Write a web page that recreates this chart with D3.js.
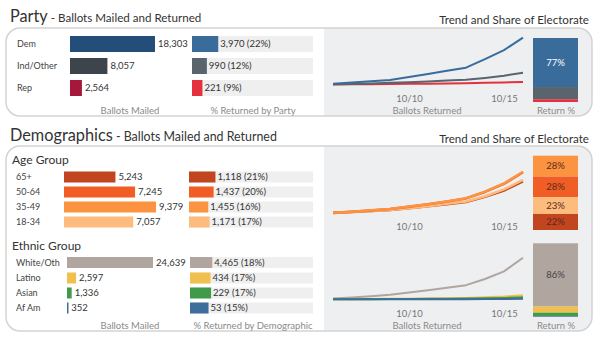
<!DOCTYPE html>
<html>
<head>
<meta charset="utf-8">
<script src="https://cdn.jsdelivr.net/npm/d3@7"></script>
<style>
  body { margin: 0; background: #fff; }
  svg { font-family: Lato, 'Open Sans', sans-serif; }
</style>
</head>
<body>
<div id="dashboard"></div>
<script>
// Days covered by the cumulative return lines
const days = ['10/6', '10/7', '10/8', '10/9', '10/10', '10/11', '10/12', '10/13', '10/14', '10/15', '10/16'];
const tickDays = ['10/10', '10/15'];

// Party
const partyNames = ['Dem', 'Ind/Other', 'Rep'];
const partyMailed = [18303, 8057, 2564];
const partyReturned = [3970, 990, 221];
const demTrend = [60, 160, 270, 380, 640, 900, 1160, 1425, 2150, 2920, 3970];
const indTrend = [20, 50, 90, 140, 200, 260, 330, 400, 560, 750, 990];
const repTrend = [8, 15, 25, 40, 55, 70, 90, 110, 140, 175, 221];

// Age groups
const ageNames = ['65+', '50-64', '35-49', '18-34'];
const ageMailed = [5243, 7245, 9379, 7057];
const ageReturned = [1118, 1437, 1455, 1171];
const age65Trend = [20, 50, 85, 120, 180, 250, 320, 400, 580, 800, 1118];
const age50Trend = [25, 65, 105, 155, 235, 320, 415, 525, 750, 1030, 1437];
const age35Trend = [25, 65, 110, 160, 240, 325, 420, 530, 760, 1045, 1455];
const age18Trend = [20, 50, 85, 125, 185, 255, 335, 420, 600, 840, 1171];

// Ethnic groups
const ethnicNames = ['White/Oth', 'Latino', 'Asian', 'Af Am'];
const ethnicMailed = [24639, 2597, 1336, 352];
const ethnicReturned = [4465, 434, 229, 53];
const whiteTrend = [75, 190, 330, 480, 720, 970, 1230, 1520, 2180, 3000, 4465];
const latinoTrend = [8, 18, 32, 47, 70, 95, 120, 150, 210, 290, 434];
const asianTrend = [4, 10, 17, 25, 37, 50, 63, 78, 110, 152, 229];
const afamTrend = [1, 2, 4, 6, 9, 12, 15, 18, 26, 36, 53];

// Colours
const partyMailedColors = ['#234e79', '#3e444c', '#a6183b'];
const partyReturnedColors = ['#3a6c9b', '#5a646c', '#e3313f'];
const ageColors = ['#c1451f', '#f05e25', '#fb9340', '#fdbb7e'];
const ethnicColors = ['#b1a59f', '#f0c04f', '#3f9a4a', '#3d6e9c'];

const W = 600, H = 348;
const parseDay = d3.timeParse('%m/%d/%Y');
const dayDate = d => parseDay(d + '/2020');
const fmt = d3.format(',');
const pct = d3.format('.0%');

const svg = d3.select('#dashboard').append('svg')
    .attr('width', W)
    .attr('height', H);

// Rounded panel, white on the left, grey behind the trend charts
function panel(id, y, h) {
    svg.append('clipPath').attr('id', id)
        .append('rect')
        .attr('x', 6).attr('y', y).attr('width', 586).attr('height', h).attr('rx', 14);
    svg.append('rect')
        .attr('x', 6).attr('y', y).attr('width', 586).attr('height', h).attr('rx', 14)
        .attr('fill', '#fff');
    svg.append('rect')
        .attr('clip-path', 'url(#' + id + ')')
        .attr('x', 324).attr('y', y).attr('width', 270).attr('height', h)
        .attr('fill', '#eeeff1');
    svg.append('rect')
        .attr('x', 6).attr('y', y).attr('width', 586).attr('height', h).attr('rx', 14)
        .attr('fill', 'none')
        .attr('stroke', '#d3d3d3')
        .attr('stroke-width', 1.5);
}

function title(main, y, subSize) {
    const t = svg.append('text')
        .attr('x', 10).attr('y', y)
        .attr('fill', '#333')
        .style('font-size', '16.3px')
        .text(main);
    t.append('tspan')
        .style('font-size', subSize + 'px')
        .text(' - Ballots Mailed and Returned');
    svg.append('text')
        .attr('x', 589).attr('y', y + 2)
        .attr('text-anchor', 'end')
        .attr('fill', '#333')
        .style('font-size', '11.6px')
        .text('Trend and Share of Electorate');
}

function footer(y, returnedLabel) {
    const labels = [['Ballots Mailed', 130], [returnedLabel, 253], ['Ballots Returned', 427], ['Return %', 556]];
    labels.forEach(l => {
        svg.append('text')
            .attr('x', l[1]).attr('y', y)
            .attr('text-anchor', 'middle')
            .attr('fill', '#8a8a8a')
            .style('font-size', '9.5px')
            .text(l[0]);
    });
}

// Mailed bars and returned-percentage bars for one group of rows
function rows(o) {
    const x = d3.scaleLinear().domain([0, d3.max(o.mailed)]).range([0, o.mailedW]);
    const xp = d3.scaleLinear().domain([0, 1]).range([0, o.retW]);
    const g = svg.append('g');

    o.names.forEach((name, i) => {
        const cy = o.rowY[i];
        g.append('text')
            .attr('x', o.labelX).attr('y', cy).attr('dy', '0.35em')
            .attr('fill', '#444')
            .style('font-size', '9px')
            .text(name);

        // Ballots mailed
        g.append('rect')
            .attr('x', o.mailedX).attr('y', cy - o.barH / 2)
            .attr('width', Math.max(1.5, x(o.mailed[i]))).attr('height', o.barH)
            .attr('fill', o.mailedColors[i]);
        g.append('text')
            .attr('x', o.mailedX + x(o.mailed[i]) + 3).attr('y', cy).attr('dy', '0.35em')
            .attr('fill', '#333')
            .style('font-size', '9.5px')
            .text(fmt(o.mailed[i]));

        // Share returned
        const share = o.returned[i] / o.mailed[i];
        g.append('rect')
            .attr('x', o.retX).attr('y', cy - o.barH / 2)
            .attr('width', o.retW).attr('height', o.barH)
            .attr('fill', '#efefef');
        g.append('rect')
            .attr('x', o.retX).attr('y', cy - o.barH / 2)
            .attr('width', xp(share)).attr('height', o.barH)
            .attr('fill', o.returnedColors[i]);
        g.append('text')
            .attr('x', o.retX + xp(share) + 2).attr('y', cy).attr('dy', '0.35em')
            .attr('fill', '#333')
            .style('font-size', '9.5px')
            .text(fmt(o.returned[i]) + ' (' + pct(share) + ')');
    });
}

// Cumulative return lines plus the stacked share bar
const x = d3.scaleTime()
    .domain(d3.extent(days, dayDate))
    .range([333, 523]);

function trend(o) {
    const y = d3.scaleLinear()
        .domain([0, d3.max(o.series, s => d3.max(s))])
        .range([o.zeroY, o.topY]);
    const line = d3.line()
        .x((d, i) => x(dayDate(days[i])))
        .y(d => y(d));
    const g = svg.append('g');

    o.drawOrder.forEach(i => {
        g.append('path')
            .attr('fill', 'none')
            .attr('stroke', o.colors[i])
            .attr('stroke-width', o.lineW)
            .attr('stroke-linejoin', 'round')
            .attr('d', line(o.series[i]));
    });

    const axis = d3.axisBottom(x)
        .tickValues(tickDays.map(dayDate))
        .tickFormat(d3.timeFormat('%m/%d'))
        .tickSize(0);
    g.append('g')
        .attr('transform', 'translate(0,' + o.axisY + ')')
        .call(axis)
        .call(a => a.select('.domain').remove())
        .selectAll('text')
        .attr('fill', '#777')
        .style('font-size', '9.5px')
        .style('font-family', 'Lato, sans-serif');

    // Stacked share of all returned ballots
    const total = d3.sum(o.returned);
    const ys = d3.scaleLinear().domain([0, total]).range([o.stackTop, o.stackBottom]);
    let acc = 0;
    o.stackOrder.forEach(i => {
        const y0 = ys(acc), y1 = ys(acc + o.returned[i]);
        acc += o.returned[i];
        g.append('rect')
            .attr('x', 533).attr('y', y0)
            .attr('width', 45).attr('height', y1 - y0)
            .attr('fill', o.colors[i]);
        if (o.labelled.includes(i)) {
            g.append('text')
                .attr('x', 555.5).attr('y', (y0 + y1) / 2).attr('dy', '0.35em')
                .attr('text-anchor', 'middle')
                .attr('fill', o.labelColor)
                .style('font-size', '9.5px')
                .text(pct(o.returned[i] / total));
        }
    });
}

// Party block
title('Party', 22, 11.6);
panel('partyClip', 28, 88);
rows({
    names: partyNames, mailed: partyMailed, returned: partyReturned,
    mailedColors: partyMailedColors, returnedColors: partyReturnedColors,
    rowY: [44, 66, 88], barH: 16, labelX: 17,
    mailedX: 70, mailedW: 85, retX: 192, retW: 121
});
trend({
    series: [demTrend, indTrend, repTrend], returned: partyReturned,
    colors: partyReturnedColors, drawOrder: [2, 1, 0], lineW: 2,
    zeroY: 84.5, topY: 37.7, axisY: 92,
    stackTop: 38, stackBottom: 102, stackOrder: [0, 1, 2],
    labelled: [0], labelColor: '#fff'
});
footer(113.5, '% Returned by Party');

// Demographics block
title('Demographics', 141, 12.4);
panel('demoClip', 146, 185);
svg.append('text').attr('x', 12).attr('y', 164)
    .attr('fill', '#333').style('font-size', '12px').text('Age Group');
svg.append('text').attr('x', 12).attr('y', 250)
    .attr('fill', '#333').style('font-size', '12px').text('Ethnic Group');

rows({
    names: ageNames, mailed: ageMailed, returned: ageReturned,
    mailedColors: ageColors, returnedColors: ageColors,
    rowY: [177, 192, 207, 222], barH: 11, labelX: 16,
    mailedX: 64, mailedW: 92, retX: 189, retW: 124
});
trend({
    series: [age65Trend, age50Trend, age35Trend, age18Trend], returned: ageReturned,
    colors: ageColors, drawOrder: [0, 3, 1, 2], lineW: 2.5,
    zeroY: 213.5, topY: 171.7, axisY: 220,
    stackTop: 155.7, stackBottom: 230, stackOrder: [2, 1, 3, 0],
    labelled: [0, 1, 2, 3], labelColor: '#5a2a1a'
});

rows({
    names: ethnicNames, mailed: ethnicMailed, returned: ethnicReturned,
    mailedColors: ethnicColors, returnedColors: ethnicColors,
    rowY: [262.5, 278, 293, 308], barH: 11, labelX: 16,
    mailedX: 67, mailedW: 86, retX: 190, retW: 123
});
trend({
    series: [whiteTrend, latinoTrend, asianTrend, afamTrend], returned: ethnicReturned,
    colors: ethnicColors, drawOrder: [0, 1, 2, 3], lineW: 2,
    zeroY: 299.3, topY: 257.7, axisY: 307,
    stackTop: 243.3, stackBottom: 316.7, stackOrder: [0, 1, 2, 3],
    labelled: [0], labelColor: '#444'
});
footer(328.5, '% Returned by Demographic');
</script>
</body>
</html>
